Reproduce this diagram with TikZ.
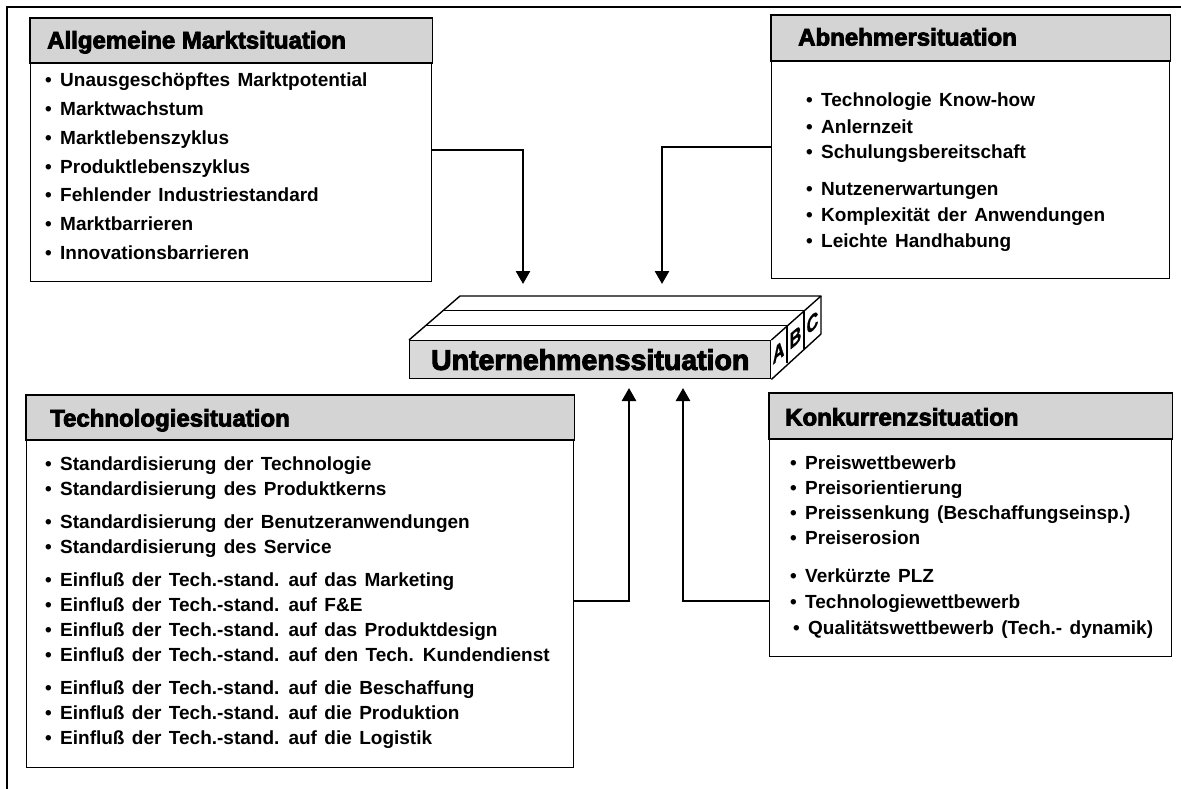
\documentclass[tikz,border=0pt]{standalone}
\usepackage{fontspec}
\setmainfont{Liberation Sans}[WordSpace=1.4]
\newfontfamily\heavyfont{Liberation Sans}[BoldFeatures={FakeBold=3.5}]
\newfontfamily\letterfont{Liberation Sans}[BoldFeatures={FakeBold=1.5}]
\usetikzlibrary{arrows.meta}
\newcommand{\bul}{\hbox to 15pt{\textbullet\hfil}}
\newcommand{\itemfont}{\bfseries\fontsize{19}{21}\selectfont}
\newcommand{\headfont}{\heavyfont\bfseries\fontsize{24}{26}\selectfont}
\newcommand{\cubefont}{\heavyfont\bfseries\fontsize{28.5}{30}\selectfont}
\newcommand{\letfont}{\letterfont\bfseries\fontsize{23}{23}\selectfont}
\begin{document}
\begin{tikzpicture}[x=1pt,y=-1pt,
  box/.style={draw, line width=1.4pt, anchor=north west, inner sep=0pt},
  head/.style={fill=black!17, draw, line width=1.4pt},
  htext/.style={anchor=base west, inner sep=0pt, font=\headfont},
  item/.style={anchor=base west, inner sep=0pt, font=\itemfont},
  conn/.style={line width=2.6pt, -{Triangle[width=14pt,length=13pt]}},
  cubeline/.style={line width=1.4pt, line join=round},
  letter/.style={inner sep=0pt, transform shape, font=\letfont},
]
\useasboundingbox (0,0) rectangle (1181,789);

% outer frame (top and left)
\coordinate (f1) at (7,789);
\coordinate (f2) at (7,7);
\coordinate (f3) at (1181,7);
\draw[line width=1.4pt] (f1) -- (f2) -- (f3);

% Box A
\node[box, minimum width=401pt, minimum height=263pt] (A) at (30,18) {};
\draw[head] (A.north west) rectangle ([yshift=-45pt]A.north east);
\node[htext] (Ah) at (47,48.5) {Allgemeine Marktsituation};
\foreach \y/\t [count=\i] in {
  87/{Unausgeschöpftes Marktpotential},
  115.7/{Marktwachstum},
  144.4/{Marktlebenszyklus},
  173.1/{Produktlebenszyklus},
  201.8/{Fehlender Industriestandard},
  230.5/{Marktbarrieren},
  259.2/{Innovationsbarrieren}}
  {\node[item] (A\i) at (45,\y) {\bul\t};}

% Box B
\node[box, minimum width=398pt, minimum height=263pt] (B) at (771,15) {};
\draw[head] (B.north west) rectangle ([yshift=-46pt]B.north east);
\node[htext] (Bh) at (798,45.5) {Abnehmersituation};
\foreach \y/\t [count=\i] in {
  107/{Technologie Know-how},
  134/{Anlernzeit},
  159/{Schulungsbereitschaft},
  195/{Nutzenerwartungen},
  222/{Komplexität der Anwendungen},
  247/{Leichte Handhabung}}
  {\node[item] (B\i) at (806,\y) {\bul\t};}

% Box C
\node[box, minimum width=547pt, minimum height=372pt] (C) at (26,395) {};
\draw[head] (C.north west) rectangle ([yshift=-45pt]C.north east);
\node[htext] (Ch) at (50,426.5) {Technologiesituation};
\foreach \y/\t [count=\i] in {
  470/{Standardisierung der Technologie},
  495/{Standardisierung des Produktkerns},
  528/{Standardisierung der Benutzeranwendungen},
  553/{Standardisierung des Service},
  586/{Einflu\ss{} der Tech.-stand. auf das Marketing},
  611/{Einflu\ss{} der Tech.-stand. auf F\&E},
  636/{Einflu\ss{} der Tech.-stand. auf das Produktdesign},
  661/{Einflu\ss{} der Tech.-stand. auf den Tech. Kundendienst},
  694/{Einflu\ss{} der Tech.-stand. auf die Beschaffung},
  719/{Einflu\ss{} der Tech.-stand. auf die Produktion},
  744/{Einflu\ss{} der Tech.-stand. auf die Logistik}}
  {\node[item] (C\i) at (45,\y) {\bul\t};}

% Box D
\node[box, minimum width=402pt, minimum height=263pt] (D) at (769,393) {};
\draw[head] (D.north west) rectangle ([yshift=-46pt]D.north east);
\node[htext] (Dh) at (785,425.5) {Konkurrenzsituation};
\foreach \y/\t [count=\i] in {
  469/{Preiswettbewerb},
  494/{Preisorientierung},
  519/{Preissenkung (Beschaffungseinsp.)},
  544/{Preiserosion},
  582/{Verkürzte PLZ},
  608/{Technologiewettbewerb}}
  {\node[item] (D\i) at (790,\y) {\bul\t};}
\node[item] (D7) at (793,634) {\bul Qualitätswettbewerb (Tech.- dynamik)};

% central block
\node[draw, fill=black!15, line width=1.4pt, anchor=north west, inner sep=0pt,
      minimum width=361pt, minimum height=38pt, font=\cubefont] (U) at (409,340) {Unternehmenssituation};
\coordinate (tbl) at (460,296);
\coordinate (tbr) at (821,296);
\coordinate (sbr) at (821,334);
\draw[cubeline] (U.north west) -- (tbl) -- (tbr) -- (U.north east);
\draw[cubeline] (tbr) -- (sbr) -- (U.south east);
\coordinate (m1l) at (426,325.3);
\coordinate (m1r) at (787,325.3);
\coordinate (m1b) at (787,363.3);
\coordinate (m2l) at (443,310.7);
\coordinate (m2r) at (804,310.7);
\coordinate (m2b) at (804,348.7);
\draw[cubeline] (m1l) -- (m1r) -- (m1b);
\draw[cubeline] (m2l) -- (m2r) -- (m2b);
\begin{scope}[shift={(778.5,352)}, yslant=0.846, xscale=0.7]
  \node[letter] (LA) at (0,0) {A};
\end{scope}
\begin{scope}[shift={(795.5,337.3)}, yslant=0.846, xscale=0.7]
  \node[letter] (LB) at (0,0) {B};
\end{scope}
\begin{scope}[shift={(812.5,322.7)}, yslant=0.846, xscale=0.7]
  \node[letter] (LC) at (0,0) {C};
\end{scope}

% connectors
\coordinate (d1) at (523,284);
\coordinate (d2) at (662,284);
\coordinate (u1) at (629,388);
\coordinate (u2) at (683,388);
\coordinate (lv) at (0,601);
\draw[conn] (A.east) -| (d1);
\draw[conn] (B.west) -| (d2);
\draw[conn] (C.east |- lv) -| (u1);
\draw[conn] (D.west |- lv) -| (u2);
\end{tikzpicture}
\end{document}
